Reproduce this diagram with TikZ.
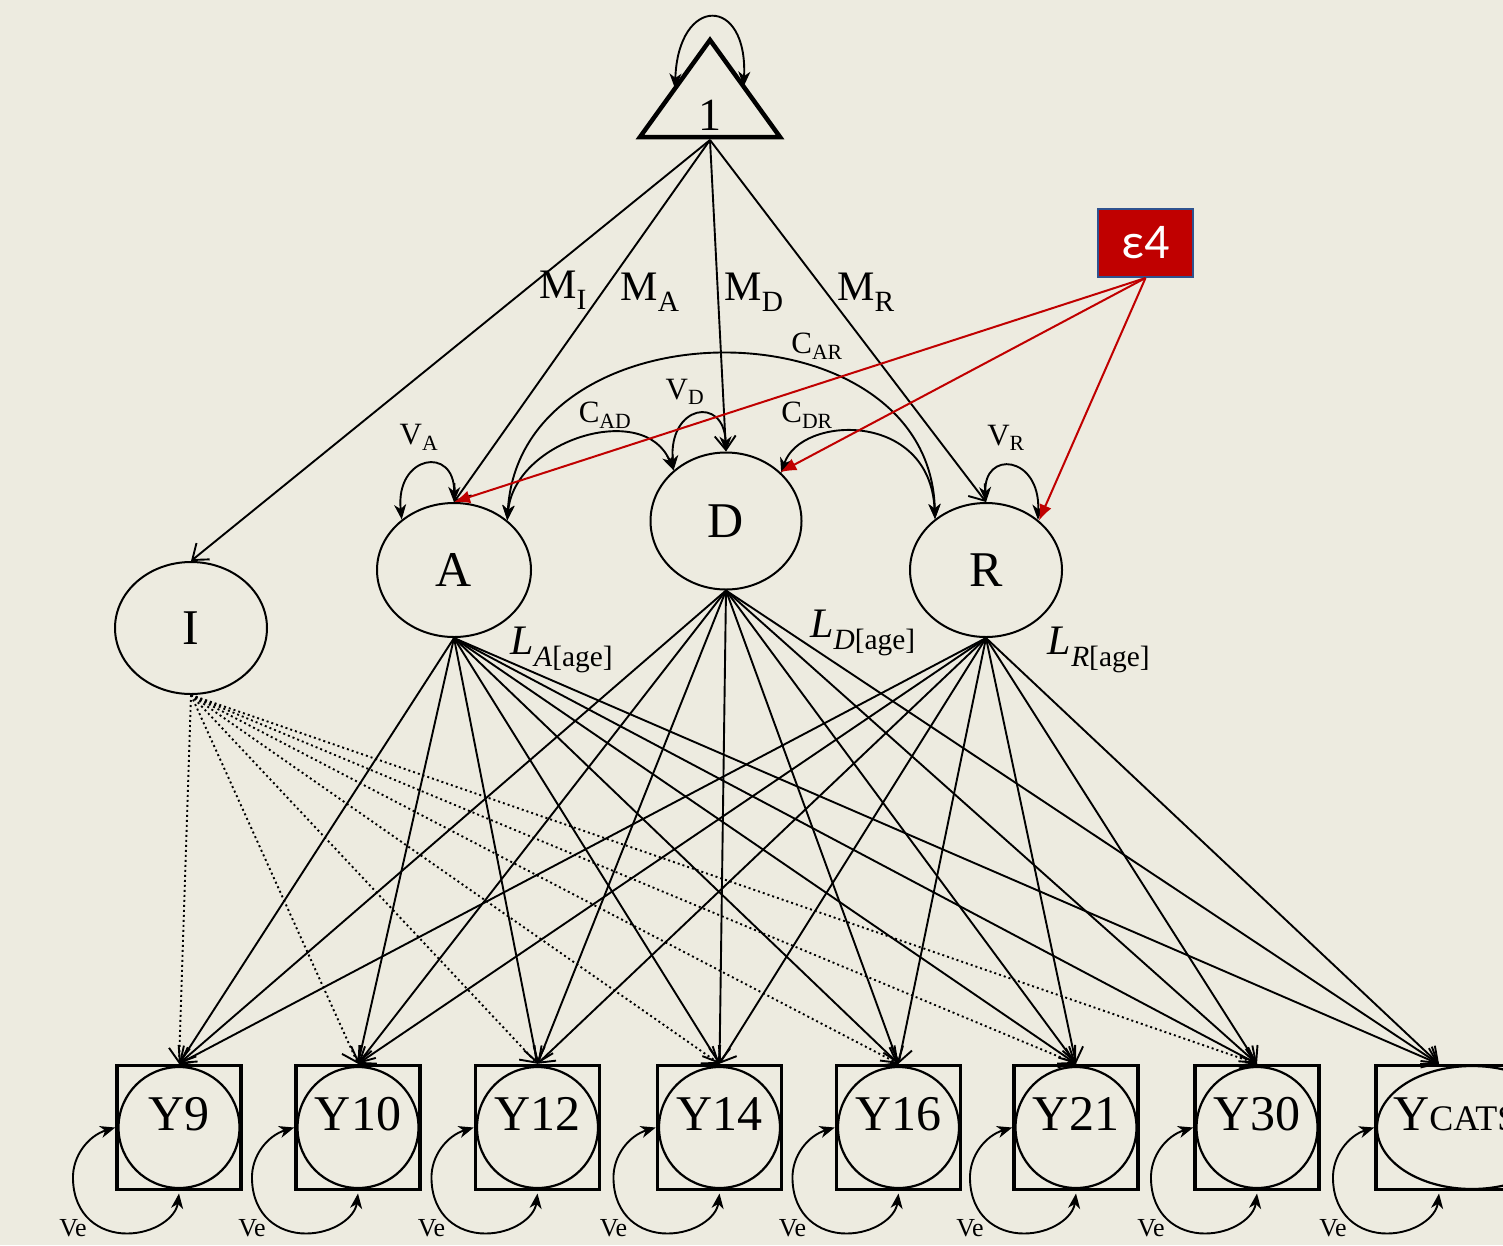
\documentclass[tikz,border=0pt]{standalone}
\usepackage{fontspec}
\setmainfont{Liberation Serif}
\newfontfamily\epsfont{Carlito}
\usetikzlibrary{arrows.meta,calc,shapes.geometric}
\definecolor{paper}{RGB}{237,235,224}
\definecolor{epsred}{RGB}{192,0,0}
\definecolor{epsblue}{RGB}{47,82,143}
\newcommand{\fs}[1]{\fontsize{#1}{#1}\selectfont}
% residual variance loop under an observed box: #1 box node, #2 reference centre
\newcommand{\veloop}[2]{%
  \draw[cov] (#1.west) .. controls ($(#2)+(-90,8)$) and ($(#2)+(-107,28)$) .. ($(#2)+(-106,52)$)
    .. controls ($(#2)+(-105,88)$) and ($(#2)+(-80,106)$) .. ($(#2)+(-52,106)$)
    .. controls ($(#2)+(-25,106)$) and ($(#2)+(-3,90)$) .. ($(#2)+(0,66)$);
  \node[font=\fs{26},inner sep=0pt] (ve-#1) at ($(#2)+(-106,101)$) {Ve};
}
\begin{document}
\begin{tikzpicture}[x=1pt,y=-1pt,
  latent/.style={ellipse,draw,line width=2pt,inner sep=0pt,font=\fs{50}},
  obsbox/.style={rectangle,draw,line width=3.5pt,minimum size=124pt,inner sep=0pt},
  obscirc/.style={circle,draw,line width=2.2pt,minimum size=121pt,inner sep=0pt},
  load/.style={line width=1.9pt,-{Straight Barb[length=14pt,width=21pt]}},
  iload/.style={load,dash pattern=on 2pt off 3pt},
  cov/.style={line width=1.9pt,{Stealth[length=15pt,width=12pt,inset=4.5pt]}-{Stealth[length=15pt,width=12pt,inset=4.5pt]}},
  effect/.style={line width=2pt,epsred,-{Latex[length=16pt,width=13pt]}},
  lbl/.style={inner sep=0pt,font=\fs{42}},
  slbl/.style={inner sep=0pt,font=\fs{31}}]
\fill[paper] (0,0) rectangle (1503,1245);
\useasboundingbox (0,0) rectangle (1503,1245);
\clip (0,0) rectangle (1503,1245);

% unit constant (triangle)
\coordinate (tl) at (640,137);
\coordinate (tr) at (780,137);
\coordinate (tt) at (710,40);
\draw[line width=4.5pt,line join=miter] (tl) -- (tr) -- (tt) -- cycle;
\node[font=\fs{46},inner sep=0pt] (unit) at (710,115) {1};
\coordinate (one) at (710,140);
\coordinate (tleft) at ($(tl)!0.5!(tt)$);
\coordinate (tright) at ($(tr)!0.52!(tt)$);
\draw[cov] (tleft) .. controls (678,-5) and (748,-5) .. (tright);

% latent factors
\node[latent,minimum width=152pt,minimum height=132pt] (I) at (191,628) {I};
\node[latent,minimum width=154pt,minimum height=134pt] (A) at (454,570) {A};
\node[latent,minimum width=151pt,minimum height=137pt] (D) at (726,521) {D};
\node[latent,minimum width=152pt,minimum height=134pt] (R) at (986,570) {R};

% APOE e4 covariate
\node[draw=epsblue,line width=2pt,fill=epsred,text=white,minimum width=95pt,
  minimum height=68pt,inner sep=0pt,font=\epsfont\fs{50}] (eps) at (1145.5,243) {ε4};

% observed measures
\foreach \nm/\xc/\lab in {y9/179/Y9,y10/358/Y10,y12/537.5/Y12,y14/719.5/Y14,
    y16/898.5/Y16,y21/1076/Y21,y30/1257/Y30}{
  \node[obsbox] (\nm) at (\xc,1127.5) {};
  \node[obscirc] (\nm-c) at (\xc,1127.5) {};
  \node[font=\fs{50},inner sep=0pt,anchor=base] (\nm-t) at (\xc,1130) {\lab};
}
\node[obsbox,minimum width=230pt] (ycats) at (1491,1127.5) {};
\node[ellipse,draw,line width=2.2pt,minimum width=190pt,minimum height=123pt,inner sep=0pt] (ycats-c) at (1472,1127.5) {};
\node[font=\fs{50},inner sep=0pt,anchor=base west] (ycats-t) at (1393,1130) {Y\fs{36}CATS};
\coordinate (ycatsc) at (1439,1127.5);
\coordinate (ycatstop) at (1439,1064);

% means
\draw[load] (one) -- (I.north);
\draw[load] (one) -- (A.north);
\draw[load] (one) -- (D.north);
\draw[load] (one) -- (R.north);

% loadings
\foreach \s in {A,D,R}{
  \foreach \t in {y9.north,y10.north,y12.north,y14.north,y16.north,y21.north,y30.north,ycatstop}{
    \draw[load] (\s.south) -- (\t);
  }
}
\foreach \t in {y9,y10,y12,y14,y16,y21,y30}{
  \draw[iload] (I.south) -- (\t.north);
}

% variances and covariances
\draw[cov] (A.136) .. controls (395,455) and (455,445) .. (A.north);
\draw[cov] (D.136) .. controls (668,405) and (724,395) .. (D.north);
\draw[cov] (R.north) .. controls (983,450) and (1040,455) .. (R.44);
\draw[cov] (A.43) .. controls (515,440) and (645,400) .. (D.136);
\draw[cov] (D.41) .. controls (800,415) and (930,410) .. (R.135);
\draw[cov] (A.43) .. controls (520,300) and (930,300) .. (R.135);

% residual variances
\veloop{y9}{y9}
\veloop{y10}{y10}
\veloop{y12}{y12}
\veloop{y14}{y14}
\veloop{y16}{y16}
\veloop{y21}{y21}
\veloop{y30}{y30}
\veloop{ycats}{ycatsc}

% labels
\node[lbl] (mI) at (563,290) {M\textsubscript{I}};
\node[lbl] (mA) at (650,292) {M\textsubscript{A}};
\node[lbl] (mD) at (754,292) {M\textsubscript{D}};
\node[lbl] (mR) at (866,292) {M\textsubscript{R}};
\node[slbl] (cAR) at (817,346) {C\textsubscript{AR}};
\node[slbl] (vD) at (685,392) {V\textsubscript{D}};
\node[slbl] (cAD) at (605,415) {C\textsubscript{AD}};
\node[slbl] (cDR) at (807,415) {C\textsubscript{DR}};
\node[slbl] (vA) at (419,437) {V\textsubscript{A}};
\node[slbl] (vR) at (1006,438) {V\textsubscript{R}};
\node[lbl] (lA) at (562,650) {\textit{L}\textsubscript{\textit{A}[age]}};
\node[lbl] (lD) at (863,633) {\textit{L}\textsubscript{\textit{D}[age]}};
\node[lbl] (lR) at (1099,650) {\textit{L}\textsubscript{\textit{R}[age]}};

% e4 effects
\draw[effect] (eps.south) -- (A.north);
\draw[effect] (eps.south) -- (D.42);
\draw[effect] (eps.south) -- (R.43);
\end{tikzpicture}
\end{document}
